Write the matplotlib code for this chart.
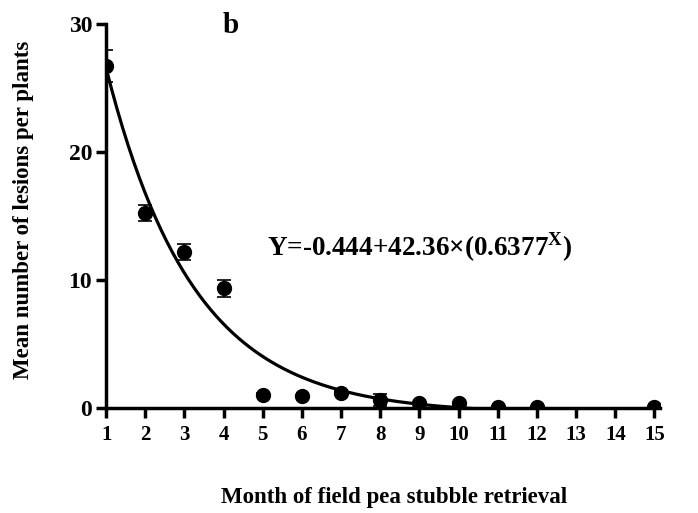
import numpy as np
import matplotlib
matplotlib.use("Agg")
import matplotlib.pyplot as plt

# dados
meses = [1, 2, 3, 4, 5, 6, 7, 8, 9, 10, 11, 12, 15]
lesoes = [26.7, 15.25, 12.2, 9.35, 1.05, 0.95, 1.2, 0.62, 0.38, 0.4, 0.1, 0.05, 0.05]
erros = [1.25, 0.65, 0.65, 0.65, 0.1, 0.1, 0.15, 0.45, 0.1, 0.1, 0.05, 0.05, 0.05]

# coeficientes do ajuste exponencial
a, b, c = -0.444, 42.36, 0.6377

plt.rcParams['font.family'] = ['Liberation Serif', 'DejaVu Serif']
plt.rcParams['font.weight'] = 'bold'
plt.rcParams['mathtext.fontset'] = 'custom'
plt.rcParams['mathtext.rm'] = 'Liberation Serif:bold'
plt.rcParams['mathtext.bf'] = 'Liberation Serif:bold'

fig = plt.figure(figsize=(6.98, 5.13), dpi=100)
ax = fig.add_axes([0.152, 0.2047, 0.794, 0.7483])

xc = np.linspace(1, 15, 300)
ax.plot(xc, a + b * c ** xc, color='black', lw=2.3, zorder=2)
ax.errorbar(meses, lesoes, yerr=erros, fmt='o', color='black', ms=10,
            ecolor='black', elinewidth=1.2, capsize=5, capthick=1.2, zorder=3)

ax.set_xlim(1, 15.15)
ax.set_ylim(0, 30)
ax.set_xticks(range(1, 16))
ax.set_yticks([0, 10, 20, 30])
for s in ['top', 'right']:
    ax.spines[s].set_visible(False)
for s in ['left', 'bottom']:
    ax.spines[s].set_linewidth(2.5)
ax.spines['bottom'].set_bounds(1, 15.15)
ax.tick_params(direction='out', length=7, width=2.5)
ax.tick_params(axis='y', labelsize=17, pad=3)
ax.tick_params(axis='x', labelsize=15, pad=5)
for t in ax.get_xticklabels() + ax.get_yticklabels():
    t.set_fontweight('bold')

ax.set_ylabel('Mean number of lesions per plants', fontsize=16.5, fontweight='bold')
ax.yaxis.set_label_coords(-0.13, 0.516)
fig.text(0.565, 0.031, 'Month of field pea stubble retrieval', fontsize=16.5,
         fontweight='bold', ha='center', va='center')

ax.text(4.17, 29.9, 'b', fontsize=21, fontweight='bold', ha='center', va='center')
ax.text(5.1, 12.6, r'Y=-0.444+42.36$\times$(0.6377$^{\mathrm{X}}$)', fontsize=19.5,
        fontweight='bold', ha='left', va='center')

plt.savefig('out.png', dpi=100)
